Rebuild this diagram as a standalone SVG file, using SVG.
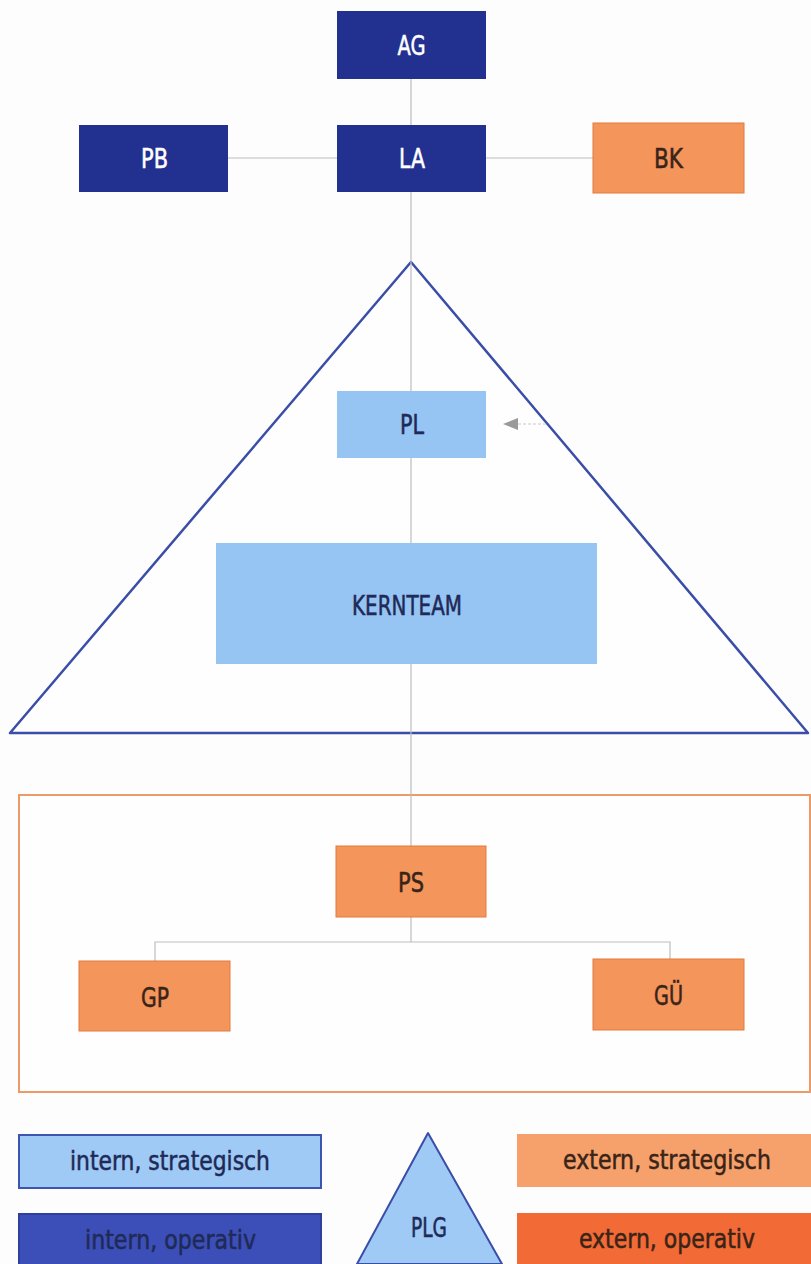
<svg xmlns="http://www.w3.org/2000/svg" width="811" height="1264" viewBox="0 0 811 1264">
<style>
.navy{fill:#22308f}
.orange{fill:#f4955c;stroke:#e47a3c;stroke-width:1}
.lblue{fill:#96c4f3}
.t{font-family:"DejaVu Sans Condensed","DejaVu Sans",sans-serif;font-size:26px;text-anchor:middle;dominant-baseline:central;stroke-width:0.5}
.w{fill:#ffffff;stroke:#ffffff}
.dk{fill:#3a2418;stroke:#3a2418}
.db{fill:#1f2a57;stroke:#1f2a57}
.con{stroke:#bdbdbd;stroke-width:1.2;fill:none}
</style>
<rect width="811" height="1264" fill="#fdfdfd"/>
<g id="frames">
<polygon points="411,262 10,733 808,733" fill="#fefefe" stroke="#3a4ea8" stroke-width="2.5" stroke-linejoin="round"/>
<rect x="19" y="795" width="791" height="297" fill="#fefefe" stroke="#ec9a66" stroke-width="2"/>
</g>
<g id="connectors">
<line class="con" x1="411" y1="79" x2="411" y2="125"/>
<line class="con" x1="228" y1="158" x2="337" y2="158"/>
<line class="con" x1="486" y1="158" x2="593" y2="158"/>
<line class="con" x1="411" y1="192" x2="411" y2="846"/>
<polyline class="con" points="155,961 155,942 670,942 670,959"/>
<line class="con" x1="411" y1="917" x2="411" y2="942"/>
<line x1="518" y1="424" x2="547" y2="424" stroke="#c8c8c8" stroke-width="1" stroke-dasharray="3,2"/>
<polygon points="503,424 518,418 518,430" fill="#999999"/>
</g>
<g id="AG"><rect class="navy" x="337" y="11" width="149" height="68"/><text class="t w" x="411.5" y="46" textLength="28" lengthAdjust="spacingAndGlyphs">AG</text></g>
<g id="PB"><rect class="navy" x="79" y="125" width="149" height="67"/><text class="t w" x="154.5" y="159" textLength="27" lengthAdjust="spacingAndGlyphs">PB</text></g>
<g id="LA"><rect class="navy" x="337" y="125" width="149" height="67"/><text class="t w" x="412" y="159" textLength="26" lengthAdjust="spacingAndGlyphs">LA</text></g>
<g id="BK"><rect class="orange" x="593" y="123" width="151" height="70"/><text class="t dk" x="668.5" y="159" textLength="29" lengthAdjust="spacingAndGlyphs">BK</text></g>
<g id="PL"><rect class="lblue" x="337" y="391" width="149" height="67"/><text class="t db" x="412" y="425" textLength="24" lengthAdjust="spacingAndGlyphs">PL</text></g>
<g id="KERNTEAM"><rect class="lblue" x="216" y="543" width="381" height="121"/><text class="t db" x="407" y="606" textLength="110" lengthAdjust="spacingAndGlyphs">KERNTEAM</text></g>
<g id="PS"><rect class="orange" x="336" y="846" width="150" height="71"/><text class="t dk" x="411" y="883" textLength="26" lengthAdjust="spacingAndGlyphs">PS</text></g>
<g id="GP"><rect class="orange" x="79" y="961" width="151" height="70"/><text class="t dk" x="155" y="998" textLength="28" lengthAdjust="spacingAndGlyphs">GP</text></g>
<g id="GUE"><rect class="orange" x="593" y="959" width="151" height="71"/><text class="t dk" x="668.5" y="996" textLength="29" lengthAdjust="spacingAndGlyphs">GÜ</text></g>
<g id="legend">
<g id="leg-intern-strategisch"><rect x="19" y="1135" width="302" height="53" fill="#9ecaf5" stroke="#3e55b0" stroke-width="2"/><text class="t db" x="170" y="1161" textLength="200" lengthAdjust="spacingAndGlyphs">intern, strategisch</text></g>
<g id="leg-intern-operativ"><rect x="19" y="1214" width="302" height="52" fill="#3c4fb8" stroke="#2e3f9e" stroke-width="2"/><text class="t db" x="170.5" y="1240" textLength="171" lengthAdjust="spacingAndGlyphs">intern, operativ</text></g>
<g id="leg-PLG"><polygon points="428,1133 357,1264 502,1264" fill="#9ecaf5" stroke="#3a4ea8" stroke-width="2" stroke-linejoin="round"/><text class="t db" x="429" y="1228" textLength="36" lengthAdjust="spacingAndGlyphs">PLG</text></g>
<g id="leg-extern-strategisch"><rect x="517" y="1134" width="294" height="53" fill="#f6a06b"/><text class="t dk" x="667" y="1160" textLength="208" lengthAdjust="spacingAndGlyphs">extern, strategisch</text></g>
<g id="leg-extern-operativ"><rect x="517" y="1213" width="294" height="51" fill="#f26a36"/><text class="t dk" x="667" y="1239" textLength="176" lengthAdjust="spacingAndGlyphs">extern, operativ</text></g>
</g>
</svg>
